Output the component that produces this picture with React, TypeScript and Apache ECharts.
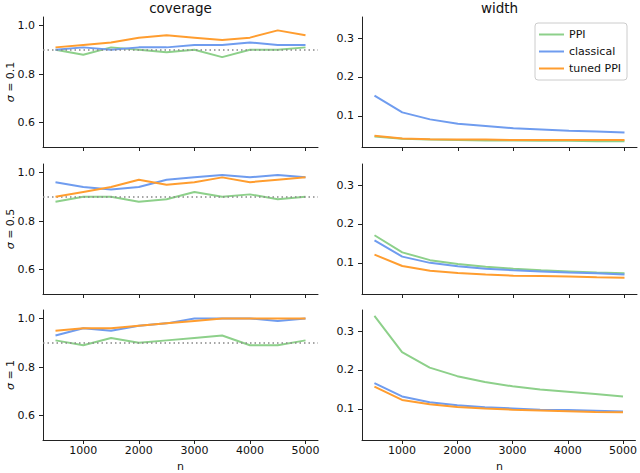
import React, { useEffect, useRef } from "react";
import * as echarts from "echarts";

const N = [500, 1000, 1500, 2000, 2500, 3000, 3500, 4000, 4500, 5000];
const X_TICKS = [1000, 2000, 3000, 4000, 5000];
const COV_TICKS = [0.6, 0.8, 1.0];
const WID_TICKS = [0.1, 0.2, 0.3];
const NOMINAL = 0.9;
const SIGMA_LABELS = ["0.1", "0.5", "1"];
const METHODS = ["PPI", "classical", "tuned PPI"];
const COLORS = ["#8dd08a", "#6f9cef", "#ff9d2f"];

// coverage, sigma = 0.1
const covPPI1 = [0.9, 0.88, 0.91, 0.9, 0.89, 0.9, 0.87, 0.9, 0.9, 0.91];
const covCls1 = [0.9, 0.91, 0.9, 0.91, 0.91, 0.92, 0.92, 0.93, 0.92, 0.92];
const covTun1 = [0.91, 0.92, 0.93, 0.95, 0.96, 0.95, 0.94, 0.95, 0.98, 0.96];
// coverage, sigma = 0.5
const covPPI2 = [0.88, 0.9, 0.9, 0.88, 0.89, 0.92, 0.9, 0.91, 0.89, 0.9];
const covCls2 = [0.96, 0.94, 0.93, 0.94, 0.97, 0.98, 0.99, 0.98, 0.99, 0.98];
const covTun2 = [0.9, 0.92, 0.94, 0.97, 0.95, 0.96, 0.98, 0.96, 0.97, 0.98];
// coverage, sigma = 1
const covPPI3 = [0.91, 0.89, 0.92, 0.9, 0.91, 0.92, 0.93, 0.89, 0.89, 0.91];
const covCls3 = [0.93, 0.96, 0.95, 0.97, 0.98, 1.0, 1.0, 1.0, 0.99, 1.0];
const covTun3 = [0.95, 0.96, 0.96, 0.97, 0.98, 0.99, 1.0, 1.0, 1.0, 1.0];
// width, sigma = 0.1
const widPPI1 = [0.047, 0.041, 0.039, 0.038, 0.037, 0.037, 0.036, 0.036, 0.035, 0.035];
const widCls1 = [0.152, 0.109, 0.091, 0.08, 0.074, 0.068, 0.065, 0.062, 0.06, 0.057];
const widTun1 = [0.049, 0.042, 0.04, 0.039, 0.039, 0.038, 0.038, 0.038, 0.038, 0.038];
// width, sigma = 0.5
const widPPI2 = [0.171, 0.127, 0.107, 0.097, 0.09, 0.085, 0.081, 0.078, 0.075, 0.073];
const widCls2 = [0.158, 0.116, 0.1, 0.091, 0.085, 0.081, 0.078, 0.075, 0.073, 0.07];
const widTun2 = [0.121, 0.092, 0.08, 0.074, 0.07, 0.067, 0.066, 0.065, 0.063, 0.062];
// width, sigma = 1
const widPPI3 = [0.339, 0.246, 0.206, 0.184, 0.169, 0.158, 0.15, 0.144, 0.138, 0.132];
const widCls3 = [0.166, 0.132, 0.117, 0.109, 0.104, 0.101, 0.098, 0.097, 0.095, 0.093];
const widTun3 = [0.157, 0.123, 0.112, 0.105, 0.101, 0.098, 0.096, 0.094, 0.092, 0.091];

const COVERAGE = [
  [covPPI1, covCls1, covTun1],
  [covPPI2, covCls2, covTun2],
  [covPPI3, covCls3, covTun3],
];
const WIDTH = [
  [widPPI1, widCls1, widTun1],
  [widPPI2, widCls2, widTun2],
  [widPPI3, widCls3, widTun3],
];

const FONT = "DejaVu Sans";

export default function App() {
  const ref = useRef<HTMLDivElement>(null);
  useEffect(() => {
    if (!ref.current) return;
    const chart = echarts.init(ref.current, undefined, { renderer: "svg" });
    const rowTops = [17, 164, 310];
    const colLefts = [43, 362];
    const gw = 275;
    const gh = 130;
    const grid: any[] = [];
    const xAxis: any[] = [];
    const yAxis: any[] = [];
    const series: any[] = [];
    const axisLine = { show: true, onZero: false, lineStyle: { color: "#222", width: 1 } };
    for (let r = 0; r < 3; r++) {
      for (let c = 0; c < 2; c++) {
        const gi = r * 2 + c;
        grid.push({ left: colLefts[c], top: rowTops[r], width: gw, height: gh, containLabel: false });
        xAxis.push({
          type: "value",
          gridIndex: gi,
          min: 275,
          max: 5225,
          splitLine: { show: false },
          axisLine,
          axisTick: { show: true, inside: false, length: 4, customValues: X_TICKS, lineStyle: { color: "#222" } },
          axisLabel: {
            show: r === 2,
            customValues: X_TICKS,
            fontSize: 11,
            color: "#111",
            fontFamily: FONT,
            margin: 5,
            formatter: (v: number) => String(v),
          },
        });
        const ticks = c === 0 ? COV_TICKS : WID_TICKS;
        yAxis.push({
          type: "value",
          gridIndex: gi,
          min: c === 0 ? 0.5 : 0.02,
          max: c === 0 ? 1.035 : 0.354,
          splitLine: { show: false },
          axisLine,
          axisTick: { show: true, inside: false, length: 4, customValues: ticks, lineStyle: { color: "#222" } },
          axisLabel: {
            customValues: ticks,
            fontSize: 11,
            color: "#111",
            fontFamily: FONT,
            margin: 8,
            formatter: (v: number) => v.toFixed(1),
          },
        });
        const data = c === 0 ? COVERAGE[r] : WIDTH[r];
        for (let m = 0; m < 3; m++) {
          const s: any = {
            type: "line",
            name: METHODS[m],
            xAxisIndex: gi,
            yAxisIndex: gi,
            data: N.map((n, i) => [n, data[m][i]]),
            showSymbol: false,
            symbol: "none",
            lineStyle: { color: COLORS[m], width: 2 },
            itemStyle: { color: COLORS[m] },
            z: 3 + m,
          };
          if (c === 0 && m === 0) {
            s.markLine = {
              silent: true,
              symbol: "none",
              label: { show: false },
              lineStyle: { color: "#888", type: [1.5, 3], width: 1.5 },
              data: [{ yAxis: NOMINAL }],
            };
          }
          series.push(s);
        }
      }
    }
    const graphic: any[] = [];
    const titles = ["coverage", "width"];
    for (let c = 0; c < 2; c++) {
      const cx = colLefts[c] + gw / 2;
      graphic.push({
        type: "text",
        x: cx,
        y: 8,
        style: {
          text: titles[c],
          fontSize: 13.5,
          fontFamily: FONT,
          fill: "#111",
          align: "center",
          verticalAlign: "middle",
        },
      });
      graphic.push({
        type: "text",
        x: cx,
        y: 466,
        style: { text: "n", fontSize: 11, fontFamily: FONT, fill: "#111", align: "center", verticalAlign: "middle" },
      });
    }
    for (let r = 0; r < 3; r++) {
      graphic.push({
        type: "text",
        x: 10,
        y: rowTops[r] + gh / 2,
        rotation: Math.PI / 2,
        style: {
          text: `{i|σ}{n| = ${SIGMA_LABELS[r]}}`,
          fontSize: 11,
          fontFamily: FONT,
          fill: "#111",
          align: "center",
          verticalAlign: "middle",
          rich: {
            i: { fontStyle: "italic", fontFamily: FONT, fontSize: 11, fill: "#111" },
            n: { fontFamily: FONT, fontSize: 11, fill: "#111" },
          },
        },
      });
    }
    chart.setOption({
      animation: false,
      backgroundColor: "#fff",
      grid,
      xAxis,
      yAxis,
      series,
      graphic,
      legend: {
        data: METHODS,
        orient: "vertical",
        left: 535,
        top: 23,
        itemWidth: 25,
        itemHeight: 2,
        itemGap: 4,
        icon: "rect",
        padding: [5, 6, 5, 4],
        borderColor: "#ccc",
        borderWidth: 1,
        borderRadius: 3,
        backgroundColor: "#fff",
        textStyle: { fontSize: 11, color: "#111", fontFamily: FONT, lineHeight: 13 },
      },
    });
    return () => chart.dispose();
  }, []);
  return <div ref={ref} style={{ width: 640, height: 473, position: "absolute", left: 0, top: 0 }} />;
}
